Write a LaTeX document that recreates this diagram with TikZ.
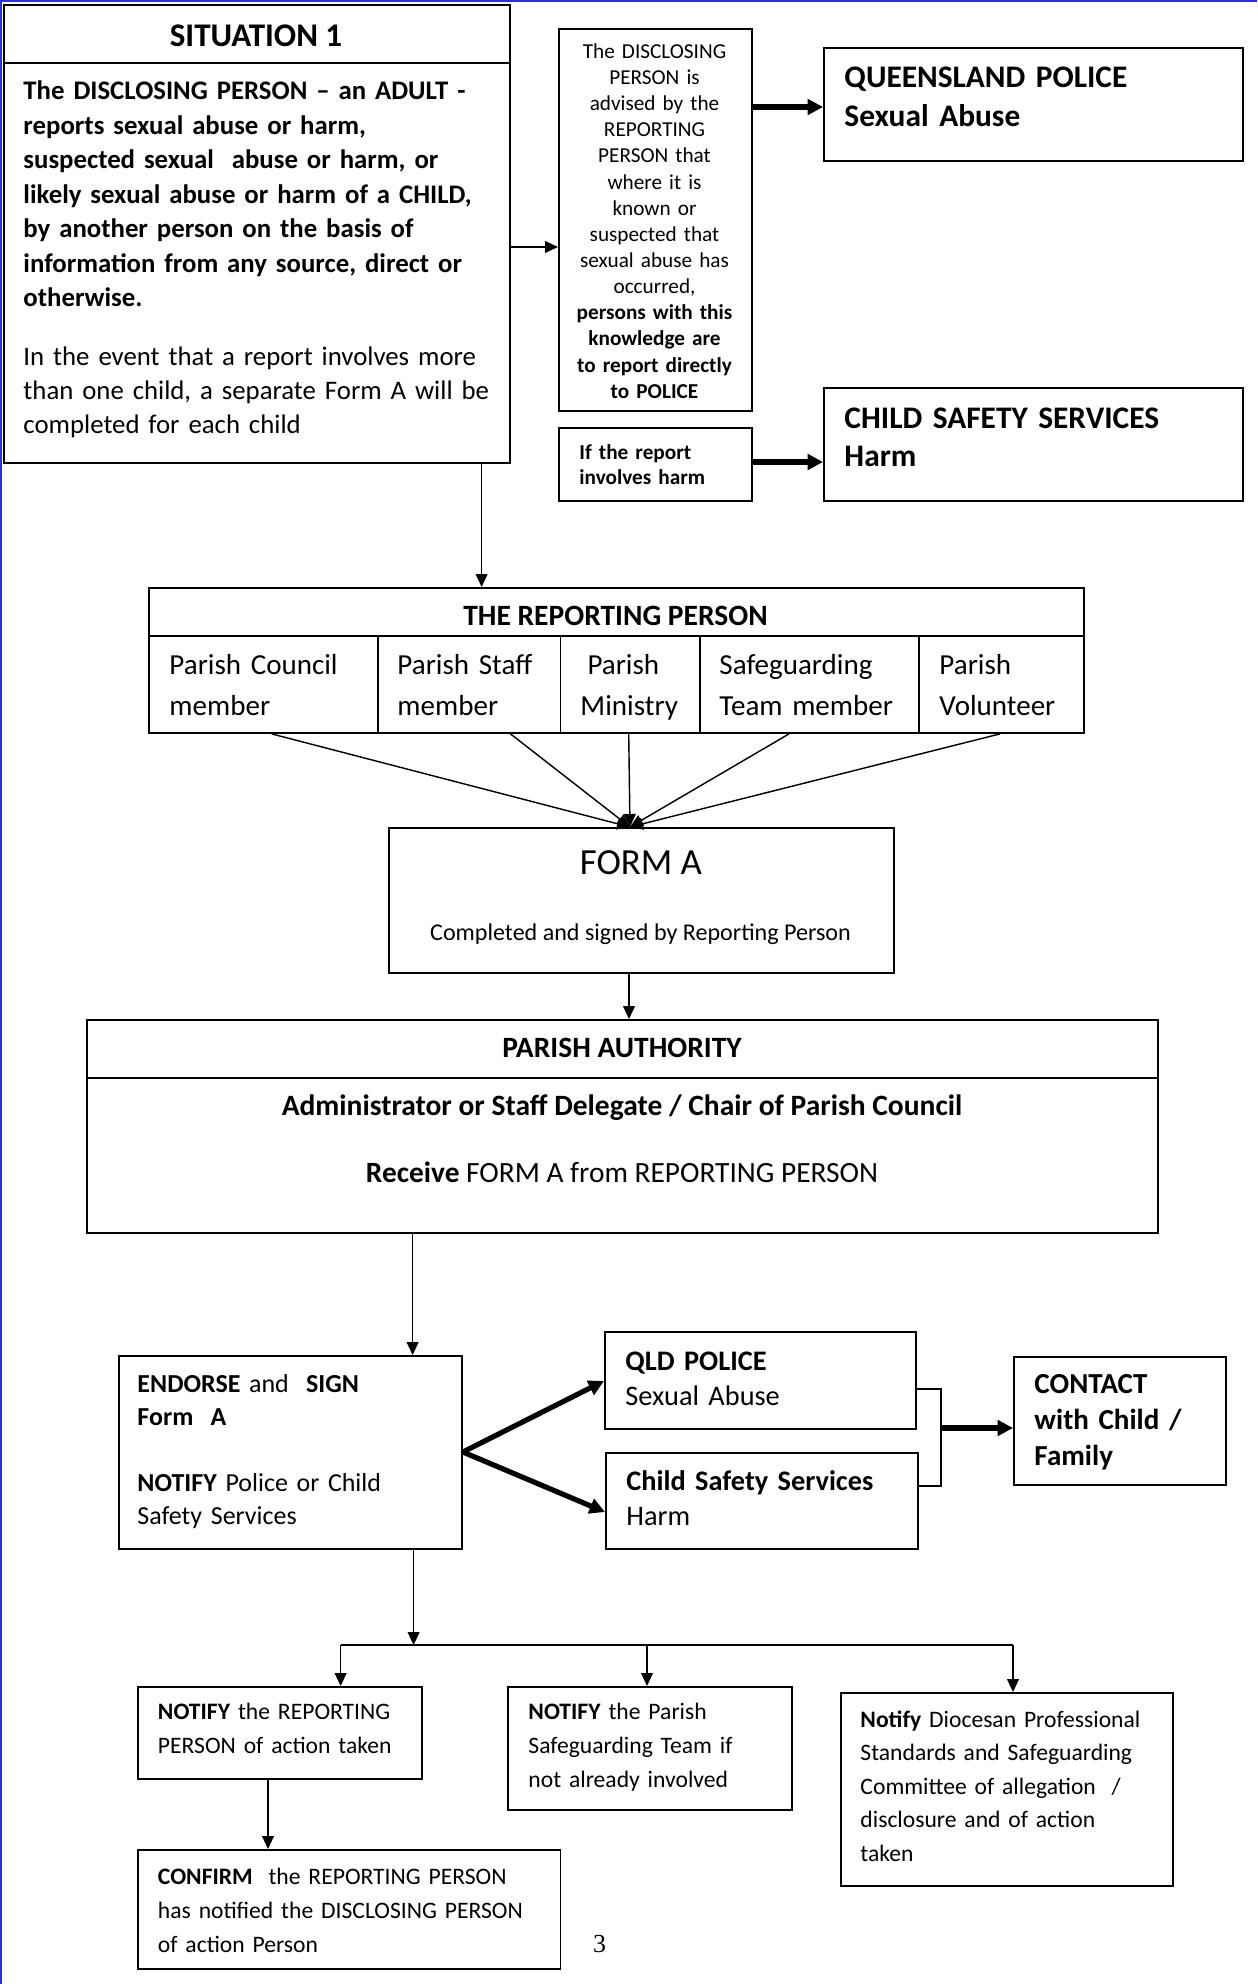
\documentclass[tikz,border=0pt]{standalone}
\usepackage{fontspec}
\setmainfont{Carlito}
\newfontfamily\pagenumfont{Liberation Serif}
\usetikzlibrary{positioning,arrows.meta}
\definecolor{pageblue}{RGB}{45,45,225}
\newcommand\pxu{0.4237pt}

\begin{document}
\begin{tikzpicture}[
    x=0.4237pt, y=-0.4237pt,
    box/.style={
        draw,
        line width=0.8pt,
        inner sep=0pt,
        anchor=north west
    },
    txt/.style={
        inner sep=0pt,
        anchor=base west,
        align=left,
        text width=300pt
    },
    ctr/.style={
        inner sep=0pt,
        anchor=base,
        align=center
    },
    arr/.style={
        -{Triangle[length=5.5pt,width=5pt]},
        line width=0.6pt
    },
    thickarr/.style={
        -{Triangle[length=6.5pt,width=6.5pt]},
        line width=2.2pt
    }
]
\useasboundingbox (0,0) rectangle (1257,1984);

% page edge
\draw[pageblue, line width=0.9pt] (0,1) -- (1257,1);
\draw[pageblue, line width=0.9pt] (1,0) -- (1,1984);

% situation
\node[box, minimum width=506*\pxu, minimum height=58*\pxu] (sithead) at (3,4) {};
\node[box, minimum width=506*\pxu, minimum height=400*\pxu] (sitbody) at (3,62) {};
\node[ctr, font=\fontsize{14pt}{16pt}\selectfont\bfseries] (sitlabel) at (256,46.5) {SITUATION 1};
\node[txt, font=\fontsize{11.35pt}{14.58pt}\selectfont] (sittext) at (23,100) {
    \textbf{The DISCLOSING PERSON – an ADULT -}\\
    \textbf{reports sexual abuse or harm,}\\
    \textbf{suspected sexual \ abuse or harm, or}\\
    \textbf{likely sexual abuse or harm of a CHILD,}\\
    \textbf{by another person on the basis of}\\
    \textbf{information from any source, direct or}\\
    \textbf{otherwise.}\\[10.25pt]
    In the event that a report involves more\\
    than one child, a separate Form A will be\\
    completed for each child
};

% advice to the disclosing person
\node[box, minimum width=193*\pxu, minimum height=382*\pxu] (disc) at (558,28) {};
\node[ctr, text width=80pt, font=\fontsize{9pt}{11.08pt}\selectfont] (disctext) at (654.5,58.3) {
    The DISCLOSING\\
    PERSON is\\
    advised by the\\
    REPORTING\\
    PERSON that\\
    where it is\\
    known or\\
    suspected that\\
    sexual abuse has\\
    occurred,\\
    \textbf{persons with this}\\
    \textbf{knowledge are}\\
    \textbf{to report directly}\\
    \textbf{to POLICE}
};

\node[box, minimum width=193*\pxu, minimum height=73*\pxu] (harmq) at (558,427) {};
\node[txt, font=\fontsize{9pt}{10.6pt}\selectfont\bfseries] (harmqtext) at (579,459.3) {
    If the report\\
    involves harm
};

\node[box, minimum width=419*\pxu, minimum height=113*\pxu] (qps) at (823,47) {};
\node[txt, font=\fontsize{13.3pt}{16.4pt}\selectfont\bfseries] (qpstext) at (844,87.3) {
    QUEENSLAND POLICE\\
    Sexual Abuse
};

\node[box, minimum width=419*\pxu, minimum height=113*\pxu] (css) at (823,387) {};
\node[txt, font=\fontsize{13.3pt}{16pt}\selectfont\bfseries] (csstext) at (844,428.3) {
    CHILD SAFETY SERVICES\\
    Harm
};

% reporting person
\node[box, minimum width=935*\pxu, minimum height=48*\pxu] (rephead) at (148,587) {};
\node[box, minimum width=229*\pxu, minimum height=97*\pxu] (c1) at (148,635) {};
\node[box, minimum width=182.5*\pxu, minimum height=97*\pxu] (c2) at (377,635) {};
\node[box, minimum width=139.5*\pxu, minimum height=97*\pxu] (c3) at (559.5,635) {};
\node[box, minimum width=219*\pxu, minimum height=97*\pxu] (c4) at (699,635) {};
\node[box, minimum width=165*\pxu, minimum height=97*\pxu] (c5) at (918,635) {};
\node[ctr, font=\fontsize{12.5pt}{14pt}\selectfont\bfseries] (replabel) at (615.5,625) {THE REPORTING PERSON};
\node[txt, font=\fontsize{12.3pt}{17.4pt}\selectfont] (c1text) at (169,674) {Parish Council\\member};
\node[txt, font=\fontsize{12.3pt}{17.4pt}\selectfont] (c2text) at (397,674) {Parish Staff\\member};
\node[txt, font=\fontsize{12.3pt}{17.4pt}\selectfont] (c3text) at (580,674) {\hspace*{3pt}Parish\\Ministry};
\node[txt, font=\fontsize{12.3pt}{17.4pt}\selectfont] (c4text) at (719,674) {Safeguarding\\Team member};
\node[txt, font=\fontsize{12.3pt}{17.4pt}\selectfont] (c5text) at (939,674) {Parish\\Volunteer};

% form A
\node[box, minimum width=505*\pxu, minimum height=145*\pxu] (forma) at (388,827) {};
\node[ctr, font=\fontsize{15.6pt}{17pt}\selectfont] (formalabel) at (641,874) {FORM A};
\node[ctr, font=\fontsize{10.2pt}{12pt}\selectfont] (formatext) at (640.5,940) {Completed and signed by Reporting Person};

% parish authority
\node[box, minimum width=1071*\pxu, minimum height=58*\pxu] (authhead) at (86,1019) {};
\node[box, minimum width=1071*\pxu, minimum height=155*\pxu] (authbody) at (86,1077) {};
\node[ctr, font=\fontsize{12.5pt}{14pt}\selectfont\bfseries] (authlabel) at (622,1057.7) {PARISH AUTHORITY};
\node[ctr, font=\fontsize{12.5pt}{14pt}\selectfont\bfseries] (authwho) at (622,1115) {Administrator or Staff Delegate / Chair of Parish Council};
\node[ctr, font=\fontsize{12.45pt}{14pt}\selectfont] (authtext) at (622,1182) {\textbf{Receive} FORM A from REPORTING PERSON};

% endorse and notify
\node[box, minimum width=343*\pxu, minimum height=193*\pxu] (endorse) at (118,1355) {};
\node[txt, font=\fontsize{11pt}{14pt}\selectfont] (endorsetext) at (137,1392.6) {
    \textbf{ENDORSE} and \ \textbf{SIGN}\\
    \textbf{Form \ A}\\[14pt]
    \textbf{NOTIFY} Police or Child\\
    Safety Services
};

\node[box, minimum width=311*\pxu, minimum height=97*\pxu] (qld) at (604,1331) {};
\node[txt, font=\fontsize{12pt}{15.1pt}\selectfont] (qldtext) at (625,1370) {
    \textbf{QLD POLICE}\\
    Sexual Abuse
};

\node[box, minimum width=312*\pxu, minimum height=96*\pxu] (cs2) at (605,1452) {};
\node[txt, font=\fontsize{12pt}{15.1pt}\selectfont] (cs2text) at (626,1490) {
    \textbf{Child Safety Services}\\
    Harm
};

\node[box, minimum width=212*\pxu, minimum height=128*\pxu] (contact) at (1013,1356) {};
\node[txt, font=\fontsize{12.3pt}{15.25pt}\selectfont\bfseries] (contacttext) at (1034,1393.9) {
    CONTACT\\
    with Child /\\
    Family
};

% notifications
\node[box, minimum width=284*\pxu, minimum height=92*\pxu] (n1) at (137,1686) {};
\node[txt, font=\fontsize{10pt}{14.45pt}\selectfont] (n1text) at (157.5,1719.2) {
    \textbf{NOTIFY} the REPORTING\\
    PERSON of action taken
};

\node[box, minimum width=284*\pxu, minimum height=123*\pxu] (n2) at (507,1686) {};
\node[txt, font=\fontsize{10pt}{14.45pt}\selectfont] (n2text) at (528,1719.2) {
    \textbf{NOTIFY} the Parish\\
    Safeguarding Team if\\
    not already involved
};

\node[box, minimum width=332*\pxu, minimum height=193*\pxu] (n3) at (840,1692) {};
\node[txt, font=\fontsize{10pt}{14.2pt}\selectfont] (n3text) at (860,1727) {
    \textbf{Notify} Diocesan Professional\\
    Standards and Safeguarding\\
    Committee of allegation \ /\\
    disclosure and of action\\
    taken
};

\node[box, minimum width=422.5*\pxu, minimum height=119*\pxu] (confirm) at (137,1849) {};
\node[txt, font=\fontsize{10pt}{14.35pt}\selectfont] (confirmtext) at (157.5,1884.3) {
    \textbf{CONFIRM} \ the REPORTING PERSON\\
    has notified the DISCLOSING PERSON\\
    of action Person
};

\node[ctr, font=\pagenumfont\fontsize{11pt}{13pt}\selectfont] (pagenum) at (599.5,1952) {3};

% connectors
\draw[arr] (sitbody.east |- 0,247) -- (disc.west |- 0,247);
\draw[thickarr] (disc.east |- 0,107) -- (qps.west |- 0,107);
\draw[thickarr] (harmq.east |- 0,462) -- (css.west |- 0,462);
\draw[arr] (sitbody.south -| 481.6,0) -- (rephead.north -| 481.6,0);

\foreach \sx/\cell in {271.7/c1, 510.5/c2, 628.7/c3, 789/c4, 1000/c5}
    \draw[arr] (\cell.south -| \sx,0) -- (forma.north -| 630,0);

\draw[arr] (forma.south -| 629,0) -- (authhead.north -| 629,0);
\draw[arr] (authbody.south -| 412.6,0) -- (endorse.north -| 412.6,0);

\draw[thickarr] (endorse.east |- 0,1452) -- (qld.west |- 0,1381);
\draw[thickarr] (endorse.east |- 0,1452) -- (cs2.west |- 0,1512);

\coordinate (brk) at (941,1428);
\draw[line width=0.6pt] (qld.east |- 0,1389) -| (brk) |- (cs2.east |- 0,1486);
\draw[thickarr] (brk) -- (contact.west |- brk);

\coordinate (split) at (413.6,1645);
\draw[arr] (endorse.south -| split) -- (split);
\draw[line width=0.6pt] (split -| 340.6,0) -- (split -| 1013,0);
\foreach \bx/\nb in {340.6/n1, 647/n2, 1013/n3}
    \draw[arr] (split -| \bx,0) -- (\nb.north -| \bx,0);

\draw[arr] (n1.south -| 268,0) -- (confirm.north -| 268,0);

\end{tikzpicture}
\end{document}
